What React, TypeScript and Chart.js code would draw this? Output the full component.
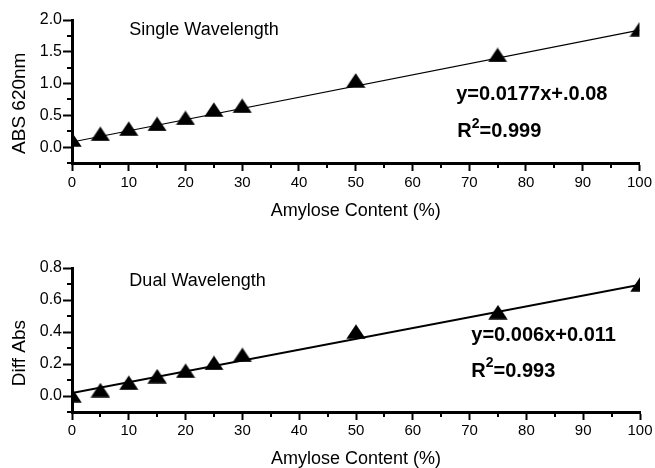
import React, { useEffect, useRef } from "react";
import { Chart, registerables } from "chart.js";
Chart.register(...registerables);

// ---- data ----
const amylose = [0, 5, 10, 15, 20, 25, 30, 50, 75, 100];
const singleAbs = [0.12, 0.21, 0.29, 0.365, 0.46, 0.59, 0.65, 1.05, 1.45, 1.855];
const dualAbs = [0.005, 0.037, 0.083, 0.124, 0.158, 0.207, 0.257, 0.403, 0.524, 0.698];
const fitX = [0, 100];
const singleFit = [0.08, 1.84];
const dualFit = [0.018, 0.695];

const xTitle = "Amylose Content (%)";
const singleYTitle = "ABS 620nm";
const dualYTitle = "Diff Abs";
const singleLabel = "Single Wavelength";
const dualLabel = "Dual Wavelength";
const singleEq = "y=0.0177x+.0.08";
const dualEq = "y=0.006x+0.011";
const singleR2 = "0.999";
const dualR2 = "0.993";

const FONT = "'Liberation Sans', Arial, Helvetica, sans-serif";

function triangleImage() {
  const c = document.createElement("canvas");
  c.width = 20;
  c.height = 15;
  const g = c.getContext("2d")!;
  g.fillStyle = "#000";
  g.beginPath();
  g.moveTo(10, 0.3);
  g.lineTo(19.7, 14.7);
  g.lineTo(0.3, 14.7);
  g.closePath();
  g.fill();
  return c;
}

type Cfg = {
  values: number[];
  fit: number[];
  fitWidth: number;
  yMin: number;
  yMax: number;
  yStep: number;
  yMajor: (v: number) => boolean;
  yTitle: string;
  yTitleAt: number;
  label: string;
  labelAt: [number, number];
  eq: string;
  eqAt: [number, number];
  r2: string;
  r2At: [number, number];
  top: number;
  xAxisHeight: number;
  xTickPad: number;
  xTitlePad: number;
};

const xMajor = (v: number) => Math.abs(v % 10) < 1e-6;

function build(canvas: HTMLCanvasElement, cfg: Cfg) {
  const tri = triangleImage();
  const decor = {
    id: "decor",
    afterDraw(chart: any) {
      const ctx = chart.ctx as CanvasRenderingContext2D;
      const xs = chart.scales.x;
      const ys = chart.scales.y;
      ctx.save();
      // minor ticks
      ctx.strokeStyle = "#000";
      ctx.lineWidth = 2;
      xs.ticks.forEach((t: any) => {
        if (!xMajor(t.value)) {
          const px = Math.round(xs.getPixelForValue(t.value));
          ctx.beginPath();
          ctx.moveTo(px, xs.top);
          ctx.lineTo(px, xs.top + 5);
          ctx.stroke();
        }
      });
      ys.ticks.forEach((t: any) => {
        if (!cfg.yMajor(t.value)) {
          const py = Math.round(ys.getPixelForValue(t.value));
          ctx.beginPath();
          ctx.moveTo(ys.right, py);
          ctx.lineTo(ys.right - 5, py);
          ctx.stroke();
        }
      });
      ctx.fillStyle = "#000";
      ctx.textBaseline = "middle";
      ctx.textAlign = "left";
      // label
      ctx.font = `18px ${FONT}`;
      ctx.fillText(cfg.label, xs.getPixelForValue(cfg.labelAt[0]), ys.getPixelForValue(cfg.labelAt[1]));
      // equation
      ctx.font = `bold 20px ${FONT}`;
      ctx.fillText(cfg.eq, xs.getPixelForValue(cfg.eqAt[0]), ys.getPixelForValue(cfg.eqAt[1]));
      // R^2
      let rx = xs.getPixelForValue(cfg.r2At[0]);
      const ry = ys.getPixelForValue(cfg.r2At[1]);
      ctx.fillText("R", rx, ry);
      rx += ctx.measureText("R").width;
      ctx.font = `bold 14px ${FONT}`;
      ctx.fillText("2", rx, ry - 8);
      rx += ctx.measureText("2").width;
      ctx.font = `bold 20px ${FONT}`;
      ctx.fillText("=" + cfg.r2, rx, ry);
      // y title
      ctx.font = `19px ${FONT}`;
      ctx.textAlign = "center";
      ctx.translate(20, ys.getPixelForValue(cfg.yTitleAt));
      ctx.rotate(-Math.PI / 2);
      ctx.fillText(cfg.yTitle, 0, 0);
      ctx.restore();
    },
  };

  return new Chart(canvas, {
    type: "scatter",
    data: {
      datasets: [
        {
          data: fitX.map((x, i) => ({ x, y: cfg.fit[i] })),
          showLine: true,
          borderColor: "#000",
          borderWidth: cfg.fitWidth,
          pointRadius: 0,
          order: 2,
        },
        {
          data: amylose.map((x, i) => ({ x, y: cfg.values[i] })),
          pointStyle: tri as any,
          pointRadius: 10,
          backgroundColor: "#000",
          borderColor: "#000",
          order: 1,
        },
      ],
    },
    options: {
      responsive: false,
      animation: false,
      devicePixelRatio: 1,
      layout: { padding: { left: 0, right: 15, top: cfg.top, bottom: 0 } },
      plugins: { legend: { display: false }, tooltip: { enabled: false } },
      scales: {
        x: {
          type: "linear",
          position: "bottom",
          min: 0,
          max: 100,
          afterFit: (s: any) => {
            s.height = cfg.xAxisHeight;
          },
          ticks: {
            stepSize: 5,
            padding: cfg.xTickPad,
            color: "#000",
            maxRotation: 0,
            autoSkip: false,
            font: { family: FONT, size: 15 },
            callback: (v: any) => (xMajor(Number(v)) ? String(v) : ""),
          },
          grid: {
            drawOnChartArea: false,
            drawTicks: true,
            tickLength: 8,
            tickWidth: 2,
            color: "#000",
            tickColor: (c: any) => (c.tick && xMajor(c.tick.value) ? "#000" : "rgba(0,0,0,0)"),
          },
          border: { display: true, color: "#000", width: 3 },
          title: {
            display: true,
            text: xTitle,
            color: "#000",
            font: { family: FONT, size: 18, lineHeight: 1 },
            padding: { top: 0, bottom: cfg.xTitlePad },
          },
        },
        y: {
          type: "linear",
          min: cfg.yMin,
          max: cfg.yMax,
          afterFit: (s: any) => {
            s.width = 72;
          },
          ticks: {
            stepSize: cfg.yStep,
            padding: 1,
            color: "#000",
            autoSkip: false,
            font: { family: FONT, size: 16 },
            callback: (v: any) => (cfg.yMajor(Number(v)) ? Number(v).toFixed(1) : ""),
          },
          grid: {
            drawOnChartArea: false,
            drawTicks: true,
            tickLength: 9,
            tickWidth: 2,
            color: "#000",
            tickColor: (c: any) => (c.tick && cfg.yMajor(c.tick.value) ? "#000" : "rgba(0,0,0,0)"),
          },
          border: { display: true, color: "#000", width: 3 },
        },
      },
    },
    plugins: [decor],
  } as any);
}

const topCfg: Cfg = {
  values: singleAbs,
  fit: singleFit,
  fitWidth: 1.2,
  yMin: -0.25,
  yMax: 2.0,
  yStep: 0.25,
  yMajor: (v) => Math.abs(v * 2 - Math.round(v * 2)) < 1e-6,
  yTitle: singleYTitle,
  yTitleAt: 0.69,
  label: singleLabel,
  labelAt: [10.1, 1.84],
  eq: singleEq,
  eqAt: [67.7, 0.835],
  r2: singleR2,
  r2At: [67.9, 0.24],
  top: 20,
  xAxisHeight: 71,
  xTickPad: 3,
  xTitlePad: 13.5,
};

const bottomCfg: Cfg = {
  values: dualAbs,
  fit: dualFit,
  fitWidth: 2,
  yMin: -0.1,
  yMax: 0.8,
  yStep: 0.1,
  yMajor: (v) => Math.abs(Math.round(v * 10)) % 2 === 0,
  yTitle: dualYTitle,
  yTitleAt: 0.268,
  label: dualLabel,
  labelAt: [10.1, 0.719],
  eq: dualEq,
  eqAt: [70.3, 0.379],
  r2: dualR2,
  r2At: [70.3, 0.153],
  top: 34,
  xAxisHeight: 56,
  xTickPad: 2,
  xTitlePad: 0,
};

function Panel({ cfg, top }: { cfg: Cfg; top: number }) {
  const ref = useRef<HTMLCanvasElement>(null);
  useEffect(() => {
    const ch = build(ref.current!, cfg);
    return () => ch.destroy();
  }, []);
  return (
    <div style={{ position: "absolute", left: 0, top, width: 655, height: 234 }}>
      <canvas ref={ref} width={655} height={234} style={{ display: "block" }} />
    </div>
  );
}

export default function App() {
  return (
    <div style={{ position: "fixed", left: 0, top: 0, width: 655, height: 468, background: "#fff" }}>
      <Panel cfg={topCfg} top={0} />
      <Panel cfg={bottomCfg} top={234} />
    </div>
  );
}
